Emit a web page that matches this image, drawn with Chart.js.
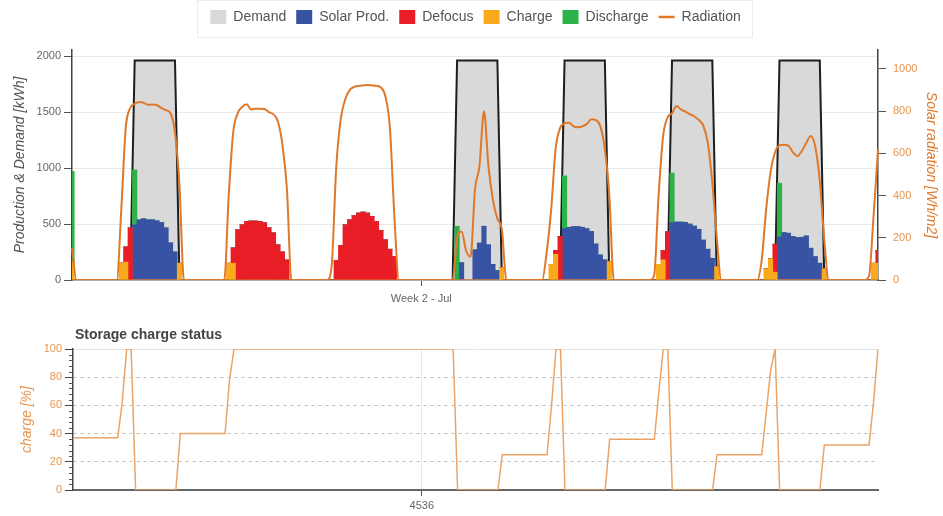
<!DOCTYPE html>
<html>
<head>
<meta charset="utf-8">
<script src="https://cdn.jsdelivr.net/npm/chart.js@4.4.0/dist/chart.umd.min.js"></script>
<style>
  body { margin: 0; background: #fff; }
  #wrap { position: relative; width: 943px; height: 516px; }
  canvas { position: absolute; left: 0; }
</style>
</head>
<body>
<div id="wrap">
  <canvas id="prodChart" width="943" height="305" style="top:0"></canvas>
  <canvas id="storageChart" width="943" height="211" style="top:305px"></canvas>
</div>
<script>
// hourly values, 5 Jul 18h -> 12 Jul 6h (hour of year 4458..4638)
const firstHour = 4458;
const weekTick = 4536;

const demand = [
  0,0,0,0,0,0,
  0,0,0,0,0,0,0,0,1960,1960,1960,1960,1960,1960,1960,1960,1960,1960,0,0,0,0,0,0,
  0,0,0,0,0,0,0,0,0,0,0,0,0,0,0,0,0,0,0,0,0,0,0,0,
  0,0,0,0,0,0,0,0,0,0,0,0,0,0,0,0,0,0,0,0,0,0,0,0,
  0,0,0,0,0,0,0,0,1960,1960,1960,1960,1960,1960,1960,1960,1960,1960,0,0,0,0,0,0,
  0,0,0,0,0,0,0,0,1960,1960,1960,1960,1960,1960,1960,1960,1960,1960,0,0,0,0,0,0,
  0,0,0,0,0,0,0,0,1960,1960,1960,1960,1960,1960,1960,1960,1960,1960,0,0,0,0,0,0,
  0,0,0,0,0,0,0,0,1960,1960,1960,1960,1960,1960,1960,1960,1960,1960,0,0,0,0,0,0,
  0,0,0,0,0,0,0
];

const solar = [
  0,0,0,0,0,0,
  0,0,0,0,0,0,0,0,493,538,547,538,538,529,514,466,332,251,0,0,0,0,0,0,
  0,0,0,0,0,0,0,0,0,0,0,0,0,0,0,0,0,0,0,0,0,0,0,0,
  0,0,0,0,0,0,0,0,0,0,0,0,0,0,0,0,0,0,0,0,0,0,0,0,
  0,0,0,0,0,0,0,0,0,155,0,0,270,330,480,315,140,85,0,0,0,0,0,0,
  0,0,0,0,0,0,0,0,460,471,477,477,471,459,434,322,224,180,0,0,0,0,0,0,
  0,0,0,0,0,0,0,0,513,518,518,515,500,482,453,357,275,194,0,0,0,0,0,0,
  0,0,0,0,0,0,0,0,385,424,418,390,380,382,394,284,209,150,0,0,0,0,0,0,
  0,0,0,0,0,0,0
];

const defocus = [
  0,0,0,0,0,0,
  0,0,0,0,0,0,136,466,0,0,0,0,0,0,0,0,0,0,0,0,0,0,0,0,
  0,0,0,0,0,0,137,448,493,523,527,527,523,511,466,421,314,251,179,0,0,0,0,0,
  0,0,0,0,0,173,308,493,538,574,598,607,598,568,523,442,359,275,209,0,0,0,0,0,
  0,0,0,0,0,0,0,0,0,0,0,0,0,0,0,0,0,0,0,0,0,0,0,0,
  0,0,0,0,0,0,35,390,0,0,0,0,0,0,0,0,0,0,0,0,0,0,0,0,
  0,0,0,0,0,0,83,432,0,0,0,0,0,0,0,0,0,0,0,0,0,0,0,0,
  0,0,0,0,0,0,0,250,0,0,0,0,0,0,0,0,0,0,0,0,0,0,0,0,
  0,0,0,0,0,0,115
];

const charge = [
  160,0,0,0,0,0,
  0,0,0,0,0,152,160,0,0,0,0,0,0,0,0,0,0,0,150,0,0,0,0,0,
  0,0,0,0,0,150,150,0,0,0,0,0,0,0,0,0,0,0,0,0,0,0,0,0,
  0,0,0,0,0,0,0,0,0,0,0,0,0,0,0,0,0,0,0,0,0,0,0,0,
  0,0,0,0,0,0,0,0,0,0,0,0,0,0,0,0,0,0,110,0,0,0,0,0,
  0,0,0,0,0,140,230,0,0,0,0,0,0,0,0,0,0,0,164,0,0,0,0,0,
  0,0,0,0,0,140,180,0,0,0,0,0,0,0,0,0,0,0,119,0,0,0,0,0,
  0,0,0,0,0,100,190,70,0,0,0,0,0,0,0,0,0,0,100,0,0,0,0,0,
  0,0,0,0,0,150,150
];

const discharge = [
  810,0,0,0,0,0,
  0,0,0,0,0,0,0,0,490,0,0,0,0,0,0,0,0,0,0,0,0,0,0,0,
  0,0,0,0,0,0,0,0,0,0,0,0,0,0,0,0,0,0,0,0,0,0,0,0,
  0,0,0,0,0,0,0,0,0,0,0,0,0,0,0,0,0,0,0,0,0,0,0,0,
  0,0,0,0,0,0,0,0,480,0,0,0,0,0,0,0,0,0,0,0,0,0,0,0,
  0,0,0,0,0,0,0,0,470,0,0,0,0,0,0,0,0,0,0,0,0,0,0,0,
  0,0,0,0,0,0,0,0,442,0,0,0,0,0,0,0,0,0,0,0,0,0,0,0,
  0,0,0,0,0,0,0,0,480,0,0,0,0,0,0,0,0,0,0,0,0,0,0,0,
  0,0,0,0,0,0,0
];

const radiation = [
  150,0,0,0,0,0,
  0,0,0,0,0,330,720,815,835,843,840,830,832,828,815,805,790,700,450,0,0,0,0,0,
  0,0,0,0,0,400,700,790,820,833,808,812,812,810,795,785,750,640,430,0,0,0,0,0,
  0,0,0,0,70,530,760,855,900,915,920,922,924,922,920,912,870,720,300,0,0,0,0,0,
  0,0,0,0,0,0,0,0,200,230,140,110,430,540,800,540,380,290,240,0,0,0,0,0,
  0,0,0,0,130,330,620,720,742,745,728,724,728,740,762,758,728,620,400,0,0,0,0,0,
  0,0,0,0,20,400,680,770,790,825,808,798,786,775,758,730,650,460,200,0,0,0,0,0,
  0,0,0,0,90,330,510,605,638,641,636,605,588,612,650,682,630,470,190,0,0,0,0,0,
  0,0,0,0,20,300,620
];

// storage charge [%]
const storage = [
  37,37,37,37,37,37,
  37,37,37,37,37,62,100,100,0,0,0,0,0,0,0,0,0,0,40,40,40,40,40,40,
  40,40,40,40,40,78,100,100,100,100,100,100,100,100,100,100,100,100,100,100,100,100,100,100,
  100,100,100,100,100,100,100,100,100,100,100,100,100,100,100,100,100,100,100,100,100,100,100,100,
  100,100,100,100,100,100,100,100,0,0,0,0,0,0,0,0,0,0,25,25,25,25,25,25,
  25,25,25,25,25,60,100,100,0,0,0,0,0,0,0,0,0,0,36,36,36,36,36,36,
  36,36,36,36,36,70,100,100,0,0,0,0,0,0,0,0,0,0,25,25,25,25,25,25,
  25,25,25,25,25,55,85,100,0,0,0,0,0,0,0,0,0,0,32,32,32,32,32,32,
  32,32,32,32,32,62,100
];

const prodTicks = [0, 500, 1000, 1500, 2000];
const radTicks = [0, 200, 400, 600, 800, 1000];
const chargeTicks = [0, 20, 40, 60, 80, 100];

const hours = Array.from({ length: demand.length }, (_, i) => firstHour + i);
const tickIndex = hours.indexOf(weekTick);

Chart.defaults.font.family = '"Liberation Sans", Arial, sans-serif';

const legendOrder = [0, 3, 2, 1, 4, 5];

// extra room under the legend + faint frame around it
const legendSpacing = {
  id: 'legendSpacing',
  beforeInit(chart) {
    const fit = chart.legend.fit;
    chart.legend.fit = function () {
      fit.bind(chart.legend)();
      this.height += 16;
    };
  },
  afterDraw(chart) {
    const boxes = chart.legend.legendHitBoxes;
    if (!boxes || !boxes.length) return;
    const first = boxes[0];
    const last = boxes[boxes.length - 1];
    const c = chart.ctx;
    c.save();
    c.strokeStyle = '#ececec';
    c.lineWidth = 1;
    c.strokeRect(Math.round(first.left - 13) + 0.5, 0.5,
      Math.round(last.left + last.width - first.left + 25), 37);
    c.restore();
  }
};

const prodChart = new Chart(document.getElementById('prodChart'), {
  data: {
    labels: hours,
    datasets: [
      { type: 'line', label: 'Demand', data: demand, stack: 'demand', order: 2,
        fill: 'origin', backgroundColor: '#d9d9d9', borderColor: '#1e1e1e',
        borderWidth: 2, pointRadius: 0, tension: 0 },
      { type: 'bar', label: 'Charge', data: charge, stack: 'prod', order: 1, backgroundColor: '#f9aa1b' },
      { type: 'bar', label: 'Defocus', data: defocus, stack: 'prod', order: 1, backgroundColor: '#e91d25' },
      { type: 'bar', label: 'Solar Prod.', data: solar, stack: 'prod', order: 1, backgroundColor: '#3953a4' },
      { type: 'bar', label: 'Discharge', data: discharge, stack: 'prod', order: 1, backgroundColor: '#2db24a' },
      { type: 'line', label: 'Radiation', data: radiation, yAxisID: 'y1', order: 0,
        borderColor: '#e0782a', borderWidth: 2, pointRadius: 0, cubicInterpolationMode: 'monotone' }
    ]
  },
  options: {
    responsive: false,
    animation: false,
    layout: { padding: { left: 8 } },
    datasets: { bar: { barPercentage: 1, categoryPercentage: 1, borderWidth: 0 } },
    plugins: {
      tooltip: { enabled: false },
      legend: {
        position: 'top',
        labels: {
          usePointStyle: true,
          pointStyleWidth: 16,
          boxHeight: 17,
          padding: 10,
          color: '#555',
          font: { size: 14 },
          generateLabels: chart => legendOrder.map(i => {
            const ds = chart.data.datasets[i];
            const isLine = ds.label === 'Radiation';
            return {
              text: ds.label,
              datasetIndex: i,
              fillStyle: isLine ? ds.borderColor : ds.backgroundColor,
              strokeStyle: isLine ? ds.borderColor : 'rgba(0,0,0,0)',
              lineWidth: isLine ? 2.5 : 0,
              pointStyle: isLine ? 'line' : 'rect',
              fontColor: '#555',
              hidden: false
            };
          })
        }
      }
    },
    scales: {
      x: {
        type: 'category',
        offset: false,
        stacked: true,
        border: { color: '#777', width: 1.5 },
        grid: { offset: false, drawOnChartArea: false, tickLength: 6, tickColor: '#555' },
        ticks: { autoSkip: false, maxRotation: 0, color: '#666', font: { size: 11 }, padding: 6,
          callback: () => 'Week 2 - Jul' },
        afterBuildTicks: s => { s.ticks = s.ticks.filter(t => t.value === tickIndex); },
        afterFit: s => { s.height = 25; }
      },
      y: {
        stacked: true,
        min: 0,
        max: 2054,
        border: { color: '#444', width: 1.5 },
        grid: { color: '#e9e9e9', tickLength: 8, tickColor: '#555' },
        ticks: { color: '#666', font: { size: 11 }, padding: 3, callback: v => String(v) },
        afterBuildTicks: s => { s.ticks = prodTicks.map(v => ({ value: v })); },
        title: { display: true, text: 'Production & Demand [kWh]', color: '#555',
          font: { size: 14, style: 'italic' } },
        afterFit: s => { s.width = 64; }
      },
      y1: {
        position: 'right',
        min: 0,
        max: 1090,
        border: { color: '#444', width: 1.5 },
        grid: { drawOnChartArea: false, tickLength: 8, tickColor: '#555' },
        ticks: { color: '#e8954e', font: { size: 11 }, padding: 7, callback: v => String(v) },
        afterBuildTicks: s => { s.ticks = radTicks.map(v => ({ value: v })); },
        title: { display: true, text: 'Solar radiation [Wh/m2]', color: '#e0782a',
          font: { size: 14, style: 'italic' } },
        afterFit: s => { s.width = 65; }
      }
    }
  },
  plugins: [legendSpacing]
});

// title drawn at the plot's left edge, small ticks between the major ones
const storageDecor = {
  id: 'storageDecor',
  afterDraw(chart) {
    const c = chart.ctx;
    const area = chart.chartArea;
    const y = chart.scales.y;
    c.save();
    c.font = 'bold 14px "Liberation Sans", Arial, sans-serif';
    c.fillStyle = '#444';
    c.textBaseline = 'middle';
    c.fillText('Storage charge status', area.left + 2, 30);
    c.strokeStyle = '#555';
    c.lineWidth = 1;
    for (let v = 4; v < 100; v += 4) {
      if (v % 20 === 0) continue;
      const py = Math.round(y.getPixelForValue(v)) + 0.5;
      c.beginPath();
      c.moveTo(area.left - 4, py);
      c.lineTo(area.left, py);
      c.stroke();
    }
    c.restore();
  }
};

const storageChart = new Chart(document.getElementById('storageChart'), {
  type: 'line',
  data: {
    labels: hours,
    datasets: [{
      label: 'charge',
      data: storage,
      borderColor: '#eba466',
      borderWidth: 1.5,
      pointRadius: 0,
      tension: 0,
      fill: false
    }]
  },
  options: {
    responsive: false,
    animation: false,
    layout: { padding: { left: 15, right: 65, top: 44 } },
    plugins: { legend: { display: false }, tooltip: { enabled: false } },
    scales: {
      x: {
        type: 'category',
        offset: false,
        border: { color: '#666', width: 2 },
        grid: { offset: false, color: '#e6e6e6', tickLength: 6, tickColor: '#555' },
        ticks: { autoSkip: false, maxRotation: 0, color: '#666', font: { size: 11 }, padding: 3 },
        afterBuildTicks: s => { s.ticks = s.ticks.filter(t => t.value === tickIndex); },
        afterFit: s => { s.height = 26; }
      },
      y: {
        min: 0,
        max: 100,
        border: { color: '#444', width: 1.5, dash: c => (c.tick && c.tick.value < 100 ? [3, 4] : []) },
        grid: { color: c => (c.tick && c.tick.value === 100 ? '#e4e4e4' : '#bdbdbd'), tickLength: 8, tickColor: '#444' },
        ticks: { color: '#e8954e', font: { size: 11 }, padding: 3 },
        afterBuildTicks: s => { s.ticks = chargeTicks.map(v => ({ value: v })); },
        title: { display: true, text: 'charge [%]', color: '#e8954e', font: { size: 14, style: 'italic' } },
        afterFit: s => { s.width = 58; }
      }
    }
  },
  plugins: [storageDecor]
});
</script>
</body>
</html>
